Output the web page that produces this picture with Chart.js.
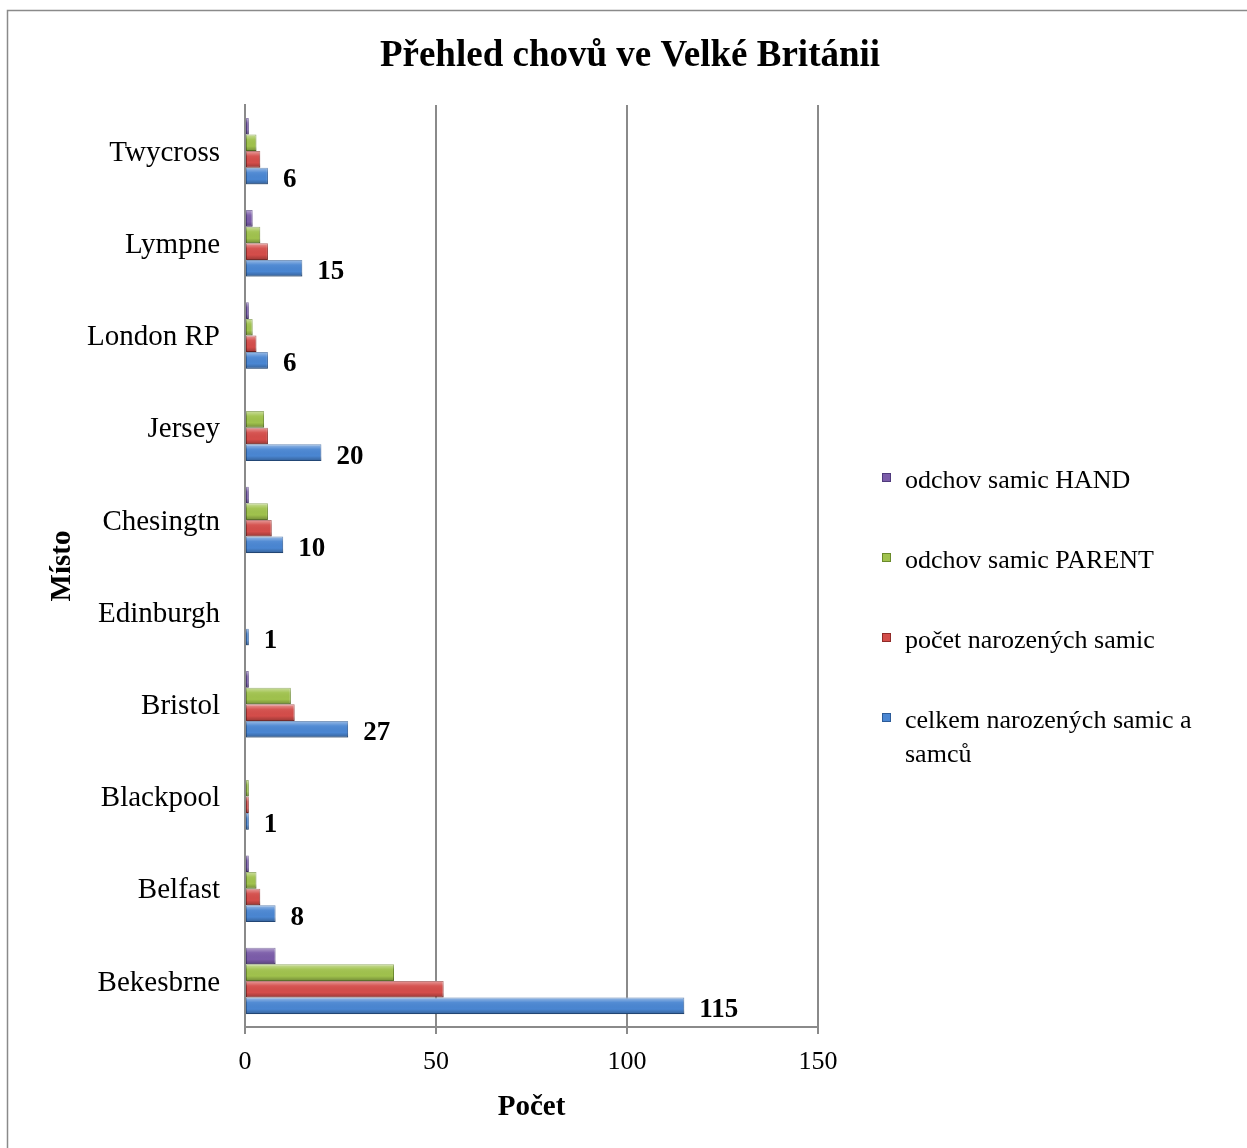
<!DOCTYPE html>
<html>
<head>
<meta charset="utf-8">
<script src="https://cdn.jsdelivr.net/npm/chart.js@4.4.1/dist/chart.umd.min.js"></script>
<style>
  html, body { margin: 0; padding: 0; background: #fff; }
  canvas { display: block; }
</style>
</head>
<body>
<canvas id="chovChart" width="1247" height="1148"></canvas>
<script>
/* data, top to bottom */
const categories = ["Twycross", "Lympne", "London RP", "Jersey", "Chesingtn", "Edinburgh", "Bristol", "Blackpool", "Belfast", "Bekesbrne"];
const odchovHand   = [1, 2, 1, 0, 1, 0, 1, 0, 1, 8];
const odchovParent = [3, 4, 2, 5, 6, 0, 12, 1, 3, 39];
const pocetSamic   = [4, 6, 3, 6, 7, 0, 13, 1, 4, 52];
const celkem       = [6, 15, 6, 20, 10, 1, 27, 1, 8, 115];
const seriesNames  = ["odchov samic HAND", "odchov samic PARENT", "počet narozených samic", ["celkem narozených samic a", "samců"]];
const xTicks = [0, 50, 100, 150];
const chartTitle = "Přehled chovů ve Velké Británii";

const SERIF = "'Liberation Serif', 'Times New Roman', serif";
const fills   = ["#7b5ca9", "#a0c24d", "#d44d4a", "#4a86d2"];
const borders = ["#4f3a7c", "#6a8a2b", "#8f2b29", "#2c5b98"];

// white background, frame edges and the title (centred on the whole page)
const framePlugin = {
  id: "frame",
  beforeDraw(chart) {
    const c = chart.ctx;
    c.save();
    c.fillStyle = "#fff";
    c.fillRect(0, 0, chart.width, chart.height);
    c.strokeStyle = "#8a8a8a";
    c.lineWidth = 1.5;
    c.beginPath();
    c.moveTo(7.5, chart.height);
    c.lineTo(7.5, 10.5);
    c.lineTo(chart.width, 10.5);
    c.stroke();
    c.fillStyle = "#000";
    c.font = "bold 37px " + SERIF;
    c.textAlign = "center";
    c.textBaseline = "middle";
    c.fillText(chartTitle, 630, 56);
    c.restore();
  }
};

// light top / dark bottom shading on each bar, plus value labels on the blue series
const barDecor = {
  id: "barDecor",
  afterDatasetsDraw(chart) {
    const c = chart.ctx;
    c.save();
    chart.data.datasets.forEach((ds, di) => {
      chart.getDatasetMeta(di).data.forEach(bar => {
        const w = bar.x - bar.base;
        if (w <= 0) return;
        const top = bar.y - bar.height / 2;
        const g = c.createLinearGradient(0, top, 0, top + bar.height);
        g.addColorStop(0, "rgba(255,255,255,0.45)");
        g.addColorStop(0.3, "rgba(255,255,255,0.05)");
        g.addColorStop(0.7, "rgba(0,0,0,0)");
        g.addColorStop(1, "rgba(0,0,0,0.28)");
        c.fillStyle = g;
        c.fillRect(bar.base, top, w, bar.height);
      });
    });
    const meta = chart.getDatasetMeta(3);
    c.font = "bold 27px " + SERIF;
    c.fillStyle = "#000";
    c.textAlign = "left";
    c.textBaseline = "middle";
    meta.data.forEach((bar, i) => {
      c.fillText(String(celkem[i]), bar.x + 15, bar.y + 4);
    });
    c.restore();
  }
};

// legend on the right, drawn by hand to keep Excel spacing
const sideLegend = {
  id: "sideLegend",
  afterDraw(chart) {
    const c = chart.ctx;
    const ys = [481, 561, 641, 721];
    c.save();
    c.font = "26px " + SERIF;
    c.textBaseline = "middle";
    c.textAlign = "left";
    seriesNames.forEach((name, i) => {
      const y = ys[i];
      c.fillStyle = fills[i];
      c.fillRect(882, y - 8, 9, 9);
      c.strokeStyle = borders[i];
      c.lineWidth = 1;
      c.strokeRect(882.5, y - 7.5, 8, 8);
      c.fillStyle = "#000";
      const lines = Array.isArray(name) ? name : [name];
      lines.forEach((t, k) => c.fillText(t, 905, y + k * 34));
    });
    c.restore();
  }
};

const mk = (i, data) => ({
  label: Array.isArray(seriesNames[i]) ? seriesNames[i].join(" ") : seriesNames[i],
  data,
  backgroundColor: fills[i],
  borderColor: borders[i],
  borderWidth: 1,
  borderSkipped: false,
  categoryPercentage: 0.72,
  barPercentage: 1.0
});

new Chart(document.getElementById("chovChart"), {
  type: "bar",
  data: {
    labels: categories,
    datasets: [mk(0, odchovHand), mk(1, odchovParent), mk(2, pocetSamic), mk(3, celkem)]
  },
  plugins: [framePlugin, barDecor, sideLegend],
  options: {
    indexAxis: "y",
    responsive: false,
    devicePixelRatio: 1,
    animation: false,
    layout: { padding: { left: 0, right: 429, top: 105, bottom: 0 } },
    plugins: {
      legend: { display: false },
      tooltip: { enabled: false },
      title: { display: false }
    },
    scales: {
      x: {
        min: 0,
        max: 150,
        afterBuildTicks(scale) { scale.ticks = xTicks.map(v => ({ value: v })); },
        afterFit(scale) { scale.height = 121; },
        grid: { color: "#8a8a8a", lineWidth: 2, drawTicks: true, tickLength: 7, tickColor: "#8a8a8a" },
        border: { display: true, color: "#8a8a8a", width: 2 },
        ticks: { color: "#000", font: { family: SERIF, size: 26 }, padding: 13, maxRotation: 0 },
        title: {
          display: true,
          text: "Počet",
          color: "#000",
          font: { family: SERIF, size: 29, weight: "bold" },
          padding: { top: 0, bottom: 23 }
        }
      },
      y: {
        afterFit(scale) { scale.width = 245; },
        grid: { display: false, drawTicks: false },
        border: { display: true, color: "#8a8a8a", width: 2 },
        ticks: { color: "#000", font: { family: SERIF, size: 29 }, padding: 25, labelOffset: 2 },
        title: {
          display: true,
          text: "Místo",
          color: "#000",
          font: { family: SERIF, size: 29, weight: "bold" },
          padding: { top: 45, bottom: 0 }
        }
      }
    }
  }
});
</script>
</body>
</html>
